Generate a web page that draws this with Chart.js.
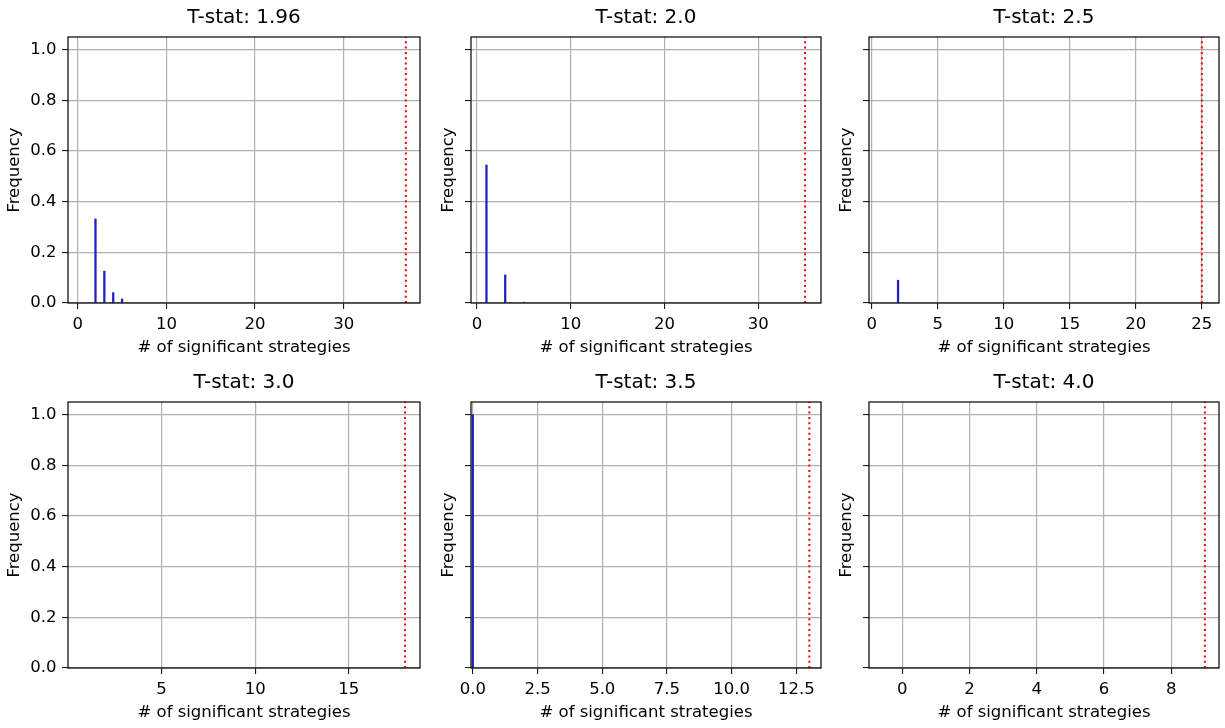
<!DOCTYPE html>
<html>
<head>
<meta charset="utf-8">
<script src="https://cdn.jsdelivr.net/npm/chart.js@4"></script>
<style>
  body { margin: 0; background: #fff; }
  #wrap { position: relative; width: 1225px; height: 728px; }
  #wrap canvas { position: absolute; }
</style>
</head>
<body>
<div id="wrap"></div>
<script>
const titles = ["T-stat: 1.96", "T-stat: 2.0", "T-stat: 2.5", "T-stat: 3.0", "T-stat: 3.5", "T-stat: 4.0"];

// histogram bins (number of significant strategies) and their frequency
const counts = [[2, 3, 4, 5], [1, 3, 5], [2], [], [0], []];
const freqs = [[0.332, 0.126, 0.041, 0.016], [0.545, 0.111, 0.003], [0.09], [], [1.0], []];

// observed number of significant strategies (red dotted line)
const observed = [37, 35, 25, 18, 13, 9];

const xTicks = [
	[0, 10, 20, 30],
	[0, 10, 20, 30],
	[0, 5, 10, 15, 20, 25],
	[5, 10, 15],
	[0, 2.5, 5, 7.5, 10, 12.5],
	[0, 2, 4, 6, 8],
];
const xTickLabels = [
	["0", "10", "20", "30"],
	["0", "10", "20", "30"],
	["0", "5", "10", "15", "20", "25"],
	["5", "10", "15"],
	["0.0", "2.5", "5.0", "7.5", "10.0", "12.5"],
	["0", "2", "4", "6", "8"],
];
const xMin = [-1.1, -0.65, -0.2, 0.0, -0.07, -0.99];
const xMax = [38.6, 36.7, 26.3, 18.8, 13.45, 9.42];

const yTicks = [0, 0.2, 0.4, 0.6, 0.8, 1.0];
const yTickLabels = ["0.0", "0.2", "0.4", "0.6", "0.8", "1.0"];
const yMax = 1.05;

Chart.defaults.font.family = "'DejaVu Sans', sans-serif";
Chart.defaults.font.size = 16.5;
Chart.defaults.color = "#000";

// layout of the 2x3 grid
const colLeft = [0, 434, 832];
const colWidth = [425, 391, 393];
const colRightPad = [5, 4, 6];
const yAxisWidth = [68, 37, 37];
const rowTop = [0, 365];
const cellHeight = 363;

// matplotlib style box around the plot area
const frame = {
	id: "frame",
	afterDatasetsDraw(chart) {
		const { ctx, chartArea: a } = chart;
		ctx.save();
		ctx.strokeStyle = "#000";
		ctx.lineWidth = 1.2;
		ctx.strokeRect(a.left, a.top, a.right - a.left, a.bottom - a.top);
		ctx.restore();
	},
};

const wrap = document.getElementById("wrap");

for (let i = 0; i < 6; i++) {
	const col = i % 3;
	const row = Math.floor(i / 3);

	const canvas = document.createElement("canvas");
	canvas.width = colWidth[col];
	canvas.height = cellHeight;
	canvas.style.left = colLeft[col] + "px";
	canvas.style.top = rowTop[row] + "px";
	wrap.appendChild(canvas);

	const bars = counts[i].map((c, k) => ({ x: c, y: freqs[i][k] }));
	const vline = [{ x: observed[i], y: 0 }, { x: observed[i], y: yMax }];

	new Chart(canvas, {
		type: "bar",
		data: {
			datasets: [
				{
					type: "bar",
					data: bars,
					backgroundColor: "#2020c0",
					borderWidth: 0,
					barThickness: 1.6,
				},
				{
					type: "line",
					data: vline,
					borderColor: "#ff0000",
					borderWidth: 2,
					borderDash: [2, 3.3],
					pointRadius: 0,
					fill: false,
				},
			],
		},
		options: {
			responsive: false,
			animation: false,
			layout: { padding: { top: 0, left: 0, bottom: 0, right: colRightPad[col] } },
			plugins: {
				legend: { display: false },
				tooltip: { enabled: false },
				title: {
					display: true,
					text: titles[i],
					fullSize: false,
					font: { size: 20, weight: "normal" },
					color: "#000",
					padding: { top: 6, bottom: 7 },
				},
			},
			scales: {
				x: {
					type: "linear",
					min: xMin[i],
					max: xMax[i],
					offset: false,
					border: { display: false },
					grid: { color: "#b0b0b0", lineWidth: 1.2, offset: false, tickLength: 6, tickColor: "#000", tickWidth: 1 },
					ticks: {
						padding: 5.5,
						maxRotation: 0,
						callback: (v, idx) => xTickLabels[i][idx],
					},
					afterBuildTicks: (s) => { s.ticks = xTicks[i].map((v) => ({ value: v })); },
					afterFit: (s) => { s.height = 60; s.paddingLeft = 0; s.paddingRight = 0; },
					title: {
						display: true,
						text: "# of significant strategies",
						font: { size: 16.5 },
						padding: { top: 0, bottom: 5 },
					},
				},
				y: {
					min: 0,
					max: yMax,
					border: { display: false },
					grid: { color: "#b0b0b0", lineWidth: 1.2, tickLength: 6, tickColor: "#000", tickWidth: 1 },
					ticks: {
						display: col === 0,
						padding: 5.5,
						callback: (v, idx) => yTickLabels[idx],
					},
					afterBuildTicks: (s) => { s.ticks = yTicks.map((v) => ({ value: v })); },
					afterFit: (s) => { s.width = yAxisWidth[col]; s.paddingTop = 0; s.paddingBottom = 0; },
					title: {
						display: true,
						text: "Frequency",
						font: { size: 16.5 },
						padding: { top: 4.6, bottom: 0 },
					},
				},
			},
		},
		plugins: [frame],
	});
}
</script>
</body>
</html>
